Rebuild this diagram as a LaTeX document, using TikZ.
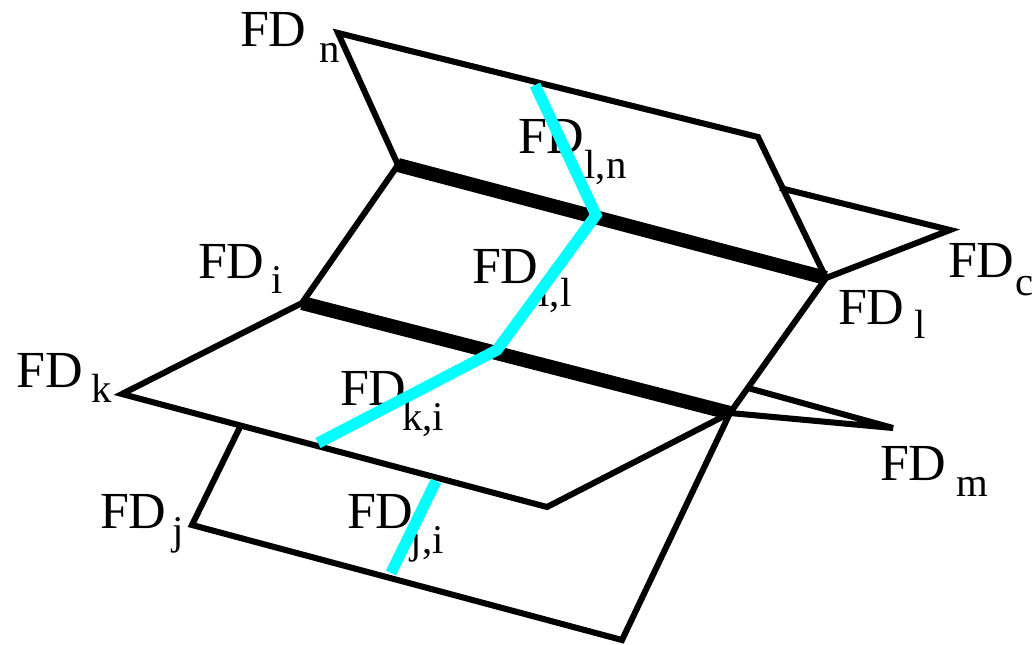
\documentclass[tikz,border=0pt]{standalone}
\usepackage{fontspec}
\setmainfont{Liberation Serif}
\definecolor{tracecyan}{RGB}{0,255,255}
\newcommand{\fdtext}[3]{FD\kern#1pt\lower#2pt\hbox{\fontsize{29}{29}\selectfont #3}}
\begin{document}
\begin{tikzpicture}[x=0.025cm, y=-0.025cm,
  edge/.style={draw=black, line width=4.3pt, line join=miter},
  spine/.style={draw=black, line width=10pt},
  trace/.style={draw=tracecyan, line width=8pt, line join=miter},
  lab/.style={anchor=base west, inner sep=0pt, outer sep=0pt, font=\fontsize{37}{37}\selectfont}
]
  \useasboundingbox (0,0) rectangle (1036,644);
  % corner points
  \coordinate (n) at (338,33); \coordinate (nr) at (758,137); \coordinate (nl) at (398,165);
  \coordinate (cup) at (780,188); \coordinate (c) at (950,230); \coordinate (l) at (826,278);
  \coordinate (i) at (302,303); \coordinate (k) at (122,394); \coordinate (im) at (730,413);
  \coordinate (mup) at (748,388); \coordinate (m) at (893,428); \coordinate (kb) at (547,507);
  \coordinate (jup) at (240,427); \coordinate (j) at (192,525); \coordinate (jb) at (622,640);
  % faces
  \draw[edge] (nl) -- (n) -- (nr) -- (l);
  \draw[edge] (cup) -- (c) -- (l);
  \draw[edge] (nl) -- (i) -- (k) -- (kb) -- (im);
  \draw[edge] (l) -- (im) -- (jb) -- (j) -- (jup);
  \draw[edge] (mup) -- (m) -- (im);
  \draw[spine] (nl) -- (l);
  \draw[spine] (i) -- (im);
  % labels
  \node[lab] (labn) at (240,47) {\fdtext{9}{11}{n}};
  \node[lab] (labi) at (198,278) {\fdtext{5}{11}{i}};
  \node[lab] (labk) at (17,387) {\fdtext{6}{11}{k}};
  \node[lab] (labj) at (100,528) {\fdtext{4}{12}{j}};
  \node[lab] (labl) at (838,324) {\fdtext{7}{10}{l}};
  \node[lab] (labc) at (948,277) {\fdtext{1}{13}{c}};
  \node[lab] (labm) at (880,480) {\fdtext{7}{12}{m}};
  \node[lab] (labln) at (518,153) {\fdtext{0}{18}{l,n}};
  \node[lab] (labil) at (472,283) {\fdtext{0}{17}{i,l}};
  \node[lab] (labki) at (340,405) {\fdtext{-3}{18}{k,i}};
  \node[lab] (labji) at (347,528) {\fdtext{-2}{18}{j,i}};
  % cyan traces
  \coordinate (ta) at (535,85); \coordinate (tb) at (596,215); \coordinate (tc) at (497,350); \coordinate (td) at (318,443);
  \coordinate (te) at (436,481); \coordinate (tf) at (391,573);
  \draw[trace] (ta) -- (tb) -- (tc) -- (td);
  \draw[trace] (te) -- (tf);
\end{tikzpicture}
\end{document}
